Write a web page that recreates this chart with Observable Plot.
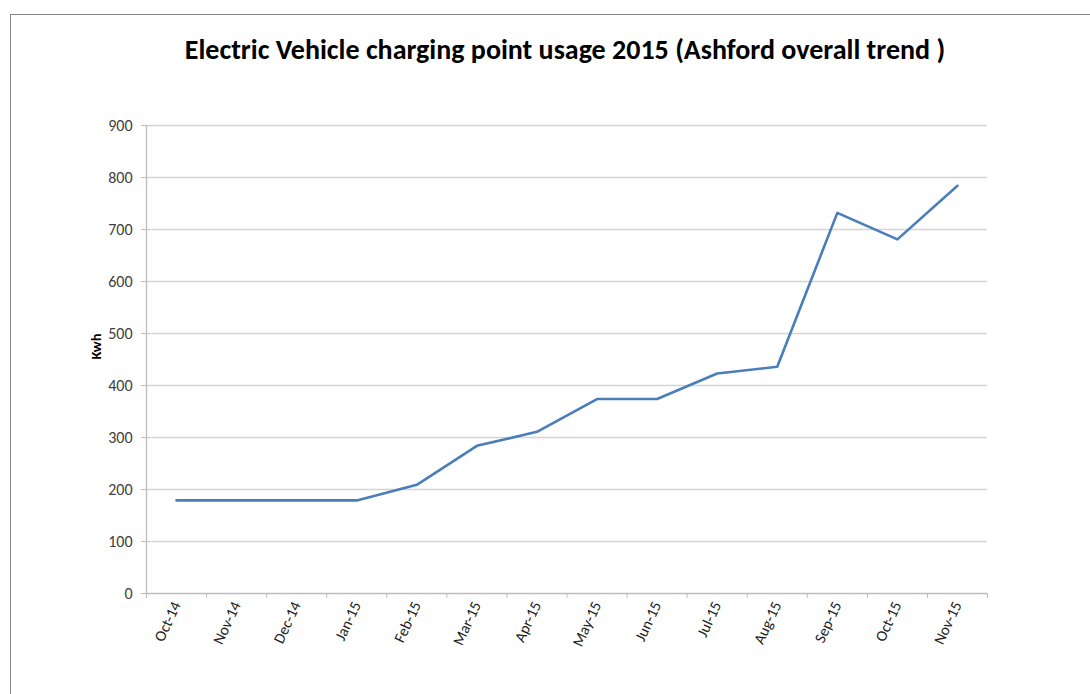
<!DOCTYPE html>
<html><head><meta charset="utf-8">
<script src="https://cdn.jsdelivr.net/npm/d3@7"></script>
<script src="https://cdn.jsdelivr.net/npm/@observablehq/plot@0.6"></script>
<style>
body{margin:0;background:#fff;}
#wrap{position:relative;width:1090px;height:694px;overflow:hidden;font-family:Carlito, Lato, "Open Sans", sans-serif;}
#frame{position:absolute;left:10px;top:14px;width:1200px;height:800px;border-left:1.5px solid #868686;border-top:1.5px solid #868686;pointer-events:none;z-index:3;}
#title{position:absolute;left:0;top:32px;width:1130px;text-align:center;font-weight:700;font-size:28px;color:#000;white-space:nowrap;}
#chart{position:absolute;left:0;top:90px;}
</style></head>
<body>
<div id="wrap">
  <div id="frame"></div>
  <div id="title">Electric Vehicle charging point usage 2015 (Ashford overall trend )</div>
  <div id="chart"></div>
</div>
<script>
const months = ["Oct-14","Nov-14","Dec-14","Jan-15","Feb-15","Mar-15","Apr-15","May-15","Jun-15","Jul-15","Aug-15","Sep-15","Oct-15","Nov-15"];
const kwh = [179,179,179,179,209,284,311,374,374,423,436,732,681,784];
const yTicks = [0,100,200,300,400,500,600,700,800,900];
const yLabel = "Kwh";

const data = months.map((m, i) => ({i, month: m, v: kwh[i]}));
const idx = months.map((m, i) => i);
const bounds = [...idx.map(i => i - 0.5), months.length - 0.5];
const font = "Carlito, Lato, 'Open Sans', sans-serif";

const chart = Plot.plot({
  width: 1090, height: 604,
  marginLeft: 146, marginRight: 103, marginTop: 35, marginBottom: 101,
  style: {background: "transparent", fontFamily: font, fontSize: "15px", color: "#404040"},
  x: {type: "linear", domain: [-0.5, months.length - 0.5]},
  y: {domain: [0, 900]},
  marks: [
    Plot.gridY(yTicks.slice(1), {stroke: "#d4d4d4", strokeOpacity: 1, strokeWidth: 1.3}),
    Plot.ruleY([0], {stroke: "#bdbdbd", strokeWidth: 1.3}),
    Plot.ruleX([-0.5], {stroke: "#bdbdbd", strokeWidth: 1.3}),
    Plot.axisY(yTicks, {tickSize: 5, tickPadding: 9, stroke: "#bdbdbd", fill: "#404040", label: null, fontSize: 16}),
    Plot.axisX(bounds, {tickSize: 5, stroke: "#bdbdbd", tickFormat: () => "", label: null}),
    Plot.axisX(idx, {tickSize: 0, tickPadding: 9, tickRotate: -65, tickFormat: i => months[i], fill: "#222", label: null, fontSize: 15.5}),
    Plot.line(data, {x: "i", y: "v", stroke: "#4a7ebb", strokeWidth: 2.6}),
    Plot.text([yLabel], {frameAnchor: "left", dx: -50, rotate: -90, fontWeight: "bold", fill: "#000", fontSize: 14.5})
  ]
});
document.getElementById("chart").appendChild(chart);
</script>
</body></html>
